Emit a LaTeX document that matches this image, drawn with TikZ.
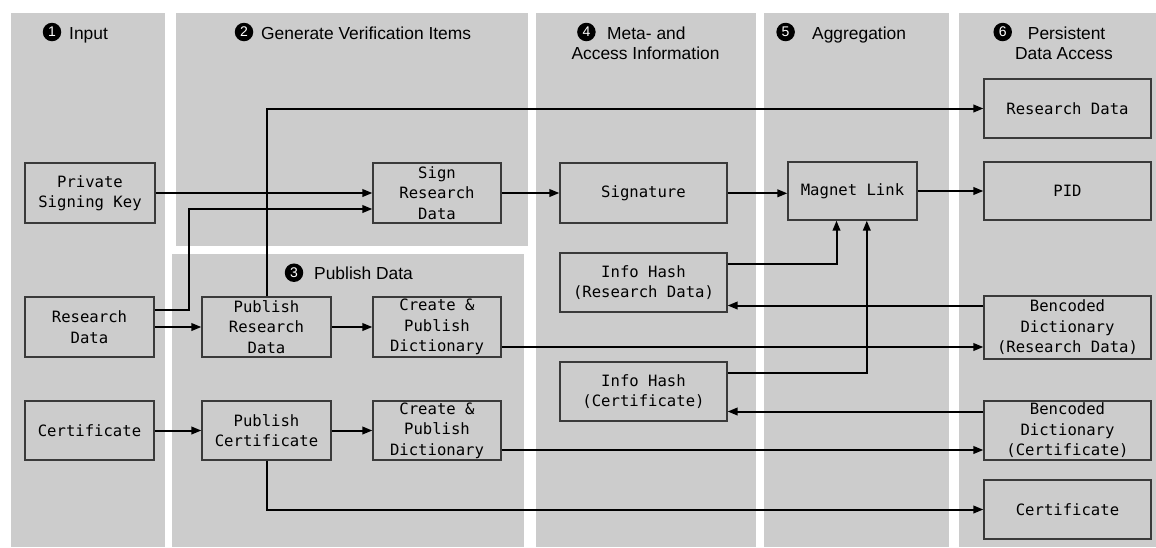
\documentclass[tikz,border=0pt]{standalone}
\usepackage{fontspec}
\setmainfont{Liberation Sans}
\newfontfamily\boxfont{DejaVu Sans Mono}
\usetikzlibrary{arrows.meta}
\definecolor{panelgray}{HTML}{CCCCCC}
\definecolor{boxborder}{HTML}{3A3A3A}
\begin{document}
\begin{tikzpicture}[x=1pt,y=-1pt,
  panel/.style={fill=panelgray,draw=none},
  box/.style={draw=boxborder,line width=1.2pt,fill=panelgray,inner sep=0pt,
    minimum height=60pt,align=center,
    font=\boxfont\fontsize{15.6pt}{20.5pt}\selectfont},
  narrow/.style={box,minimum width=129pt},
  wide/.style={box,minimum width=167pt},
  arr/.style={line width=2pt,-{Triangle[length=10pt,width=7.5pt]}},
  num/.style={circle,fill=black,text=white,inner sep=0pt,minimum size=18.5pt,
    font=\fontsize{14pt}{14pt}\selectfont},
  head/.style={anchor=base west,inner sep=0pt,font=\fontsize{17.4pt}{20pt}\selectfont},
  headc/.style={anchor=base,inner sep=0pt,font=\fontsize{17.4pt}{20pt}\selectfont}]
\useasboundingbox (0,0) rectangle (1156,547);
% panels
\fill[panel] (11,13) rectangle (165,547);
\fill[panel] (176,13) rectangle (528,246);
\fill[panel] (172,254) rectangle (524,547);
\fill[panel] (536,13) rectangle (756,547);
\fill[panel] (764,13) rectangle (949,547);
\fill[panel] (959,13) rectangle (1156,547);
% headings
\node[num] (n1) at (52,32) {1};
\node[head] (h1) at (69,39.3) {Input};
\node[num] (n2) at (244,32) {2};
\node[head] (h2) at (261,39.3) {Generate Verification Items};
\node[num] (n3) at (294,272.7) {3};
\node[head] (h3) at (314,279.3) {Publish Data};
\node[num] (n4) at (586.4,32) {4};
\node[head] (h4a) at (607,39.3) {Meta- and};
\node[headc] (h4b) at (645.5,59.3) {Access Information};
\node[num] (n5) at (785.6,32) {5};
\node[head] (h5) at (812,39.3) {Aggregation};
\node[num] (n6) at (1002.7,32) {6};
\node[head] (h6a) at (1027.7,39.3) {Persistent};
\node[headc] (h6b) at (1064,59.3) {Data Access};
% boxes
\node[narrow,minimum width=130pt] (psk) at (90,193) {Private\\Signing Key};
\node[narrow,minimum width=128pt] (sign) at (437,193) {Sign\\Research\\Data};
\node[wide] (sig) at (643.5,193) {Signature};
\node[narrow,minimum height=58pt] (mag) at (852.5,191) {Magnet Link};
\node[wide,minimum height=59pt] (rout) at (1067.5,108.5) {Research Data};
\node[wide,minimum height=58pt] (pid) at (1067.5,191) {PID};
\node[wide,minimum height=59pt] (ihrd) at (643.5,282.5) {Info Hash\\(Research Data)};
\node[narrow] (rin) at (89.5,327) {Research\\Data};
\node[narrow] (pubrd) at (266.5,327) {Publish\\Research\\Data};
\node[narrow,minimum width=128pt] (cr1) at (437,327) {Create \&\\Publish\\Dictionary};
\node[wide,minimum height=63pt] (brd) at (1067.5,327.5) {Bencoded\\Dictionary\\(Research Data)};
\node[wide,minimum height=59pt] (ihc) at (643.5,391.5) {Info Hash\\(Certificate)};
\node[narrow,minimum height=59pt] (cin) at (89.5,430.5) {Certificate};
\node[narrow,minimum height=59pt] (pubc) at (266.5,430.5) {Publish\\Certificate};
\node[narrow,minimum width=128pt,minimum height=59pt] (cr2) at (437,430.5) {Create \&\\Publish\\Dictionary};
\node[wide,minimum height=59pt] (bc) at (1067.5,430.5) {Bencoded\\Dictionary\\(Certificate)};
\node[wide,minimum height=59pt] (cout) at (1067.5,509.5) {Certificate};
% connectors
\draw[arr] (psk.east) -- (sign.west);
\draw[arr] ([yshift=17pt]rin.east) -- ++(34pt,0) |- ([yshift=-16pt]sign.west);
\draw[arr] (rin.east) -- (pubrd.west);
\draw[arr] (pubrd.north) |- (rout.west);
\draw[arr] (sign.east) -- (sig.west);
\draw[arr] ([yshift=-0.3pt]sig.east) -- ([yshift=-0.3pt]sig.east -| mag.west);
\draw[arr] (mag.east) -- (pid.west);
\draw[arr] ([yshift=19pt]ihrd.east) -| ([xshift=-16pt]mag.south);
\draw[arr] ([yshift=19pt]ihc.east) -| ([xshift=14.3pt]mag.south);
\draw[arr] ([yshift=22pt]brd.west) -- ([yshift=22pt]brd.west -| ihrd.east);
\draw[arr] ([yshift=-20pt]cr1.east) -- ([yshift=-20pt]cr1.east -| brd.west);
\draw[arr] ([yshift=19pt]bc.west) -- ([yshift=19pt]bc.west -| ihc.east);
\draw[arr] ([yshift=-19.5pt]cr2.east) -- ([yshift=-19.5pt]cr2.east -| bc.west);
\draw[arr] (pubrd.east) -- (cr1.west);
\draw[arr] (cin.east) -- (pubc.west);
\draw[arr] (pubc.east) -- (cr2.west);
\draw[arr] (pubc.south) |- (cout.west);
\end{tikzpicture}
\end{document}
